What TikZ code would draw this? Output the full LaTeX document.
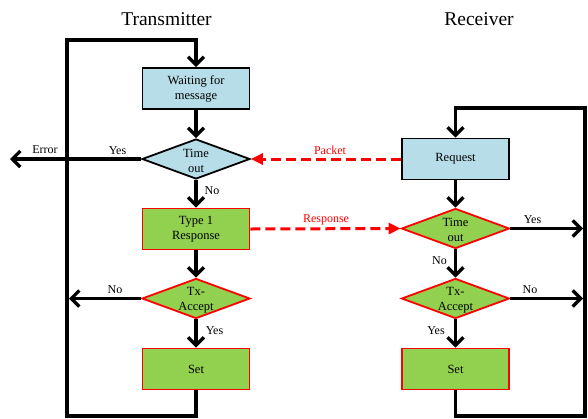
\documentclass[tikz,border=0pt]{standalone}
\usepackage{fontspec}
\setmainfont{Liberation Serif}
\usetikzlibrary{shapes.geometric,arrows.meta}
\definecolor{boxblue}{HTML}{B7DEE8}
\definecolor{boxgreen}{HTML}{92D050}
\begin{document}
\begin{tikzpicture}[x=1pt,y=-1pt,
 boxbase/.style={rectangle, line width=1.8pt, minimum width=107pt, minimum height=41pt, inner sep=0pt, align=center, font=\fontsize{12.5}{15}\selectfont},
 bluebox/.style={boxbase, draw=black, fill=boxblue},
 greenbox/.style={boxbase, draw=red, fill=boxgreen},
 dia/.style={diamond, line width=1.8pt, minimum width=108pt, minimum height=40pt, inner sep=0pt},
 bluedia/.style={dia, draw=black, fill=boxblue},
 greendia/.style={dia, draw=red, fill=boxgreen},
 dtext/.style={align=center, font=\fontsize{12.5}{15}\selectfont, inner sep=0pt},
 flow/.style={line width=3.3pt, -{Straight Barb[length=8pt,width=16pt]}},
 msg/.style={red, line width=3pt, dash pattern=on 10pt off 5pt, -{Triangle[length=12pt,width=11pt]}},
 lbl/.style={font=\fontsize{12}{14}\selectfont, inner sep=0pt},
 redlbl/.style={lbl, text=red},
 titletext/.style={font=\fontsize{19.5}{22}\selectfont, inner sep=0pt, anchor=base}
]
\useasboundingbox (0,0) rectangle (588,418);

% titles
\node[titletext] (ttl) at (166.5,25) {Transmitter};
\node[titletext] (rtl) at (479,25) {Receiver};

% transmitter nodes
\node[bluebox] (wait) at (196,88.5) {Waiting for\\message};
\node[bluedia] (tto) at (196,159) {};
\node[dtext] (ttot) at (196,161) {Time\\out};
\node[greenbox] (resp) at (196,229) {Type 1\\Response};
\node[greendia] (tacc) at (196,298.5) {};
\node[dtext] (tacct) at (196,300) {Tx-\\Accept};
\node[greenbox] (tset) at (196,369) {Set};

% receiver nodes
\node[bluebox] (req) at (455.5,159) {Request};
\node[greendia] (rto) at (455.5,228.5) {};
\node[dtext] (rtot) at (455.5,230) {Time\\out};
\node[greendia] (racc) at (455.5,298.5) {};
\node[dtext] (racct) at (455.5,300) {Tx-\\Accept};
\node[greenbox] (rset) at (455.5,369) {Set};

% coordinates
\coordinate (tbot) at (196,416);
\coordinate (tbl) at (67,416);
\coordinate (ttl2) at (67,40);
\coordinate (ttr) at (196,40);
\coordinate (err) at (10,159);
\coordinate (tno) at (69,298.5);
\coordinate (rbot) at (455.5,416);
\coordinate (rbr) at (585,416);
\coordinate (rtr) at (585,108);
\coordinate (rtl2) at (455.5,108);
\coordinate (ryes) at (583,228.5);
\coordinate (rno) at (583,298.5);

% transmitter connectors
\draw[flow] (tset.south) -- (tbot) -- (tbl) -- (ttl2) -- (ttr) -- (wait.north);
\draw[flow] (wait.south) -- (tto.north);
\draw[flow] (tto.west) -- (err);
\draw[flow] (tto.south) -- (resp.north);
\draw[flow] (resp.south) -- (tacc.north);
\draw[flow] (tacc.west) -- (tno);
\draw[flow] (tacc.south) -- (tset.north);

% receiver connectors
\draw[flow] (rset.south) -- (rbot) -- (rbr) -- (rtr) -- (rtl2) -- (req.north);
\draw[flow] (req.south) -- (rto.north);
\draw[flow] (rto.east) -- (ryes);
\draw[flow] (rto.south) -- (racc.north);
\draw[flow] (racc.east) -- (rno);
\draw[flow] (racc.south) -- (rset.north);

% messages
\draw[msg] (req.west) -- (tto.east);
\draw[msg] (resp.east) -- (rto.west);

% labels
\node[lbl] (lerr) at (45,150) {Error};
\node[lbl] (ltyes) at (117.5,151) {Yes};
\node[lbl] (ltno) at (212,191) {No};
\node[lbl] (ltno2) at (115,290) {No};
\node[lbl] (ltyes2) at (214.5,331) {Yes};
\node[redlbl] (lpk) at (330,150) {Packet};
\node[redlbl] (lrs) at (326,220) {Response};
\node[lbl] (lryes) at (532.5,220) {Yes};
\node[lbl] (lrno) at (439.5,261) {No};
\node[lbl] (lrno2) at (530,290) {No};
\node[lbl] (lryes2) at (436,331) {Yes};
\end{tikzpicture}
\end{document}
